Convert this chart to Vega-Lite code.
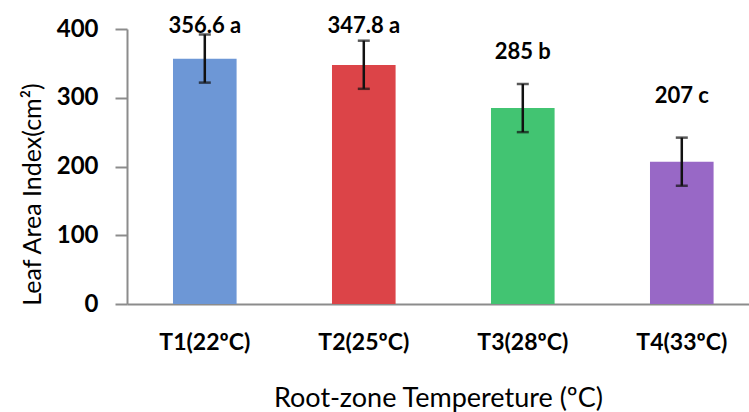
{
  "$schema": "https://vega.github.io/schema/vega-lite/v6.json",
  "width": 622,
  "height": 275,
  "autosize": "none",
  "padding": {"left": 127, "top": 29, "right": 0, "bottom": 108},
  "background": "white",
  "config": {"view": {"stroke": null}, "font": "Lato"},
  "data": {"values": [
    {"treatment": "T1(22ºC)", "lai": 356.6, "low": 322, "high": 392, "label": "356.6 a", "label_at": 394},
    {"treatment": "T2(25ºC)", "lai": 347.8, "low": 313, "high": 383, "label": "347.8 a", "label_at": 394},
    {"treatment": "T3(28ºC)", "lai": 285, "low": 250, "high": 320, "label": "285 b", "label_at": 356},
    {"treatment": "T4(33ºC)", "lai": 207, "low": 172, "high": 242, "label": "207 c", "label_at": 292}
  ]},
  "encoding": {
    "x": {
      "field": "treatment", "type": "nominal", "sort": null,
      "scale": {"paddingInner": 0.6, "paddingOuter": 0.256, "align": 0.565},
      "axis": {
        "title": "Root-zone Tempereture (ºC)",
        "labelAngle": 0, "labelFont": "Lato", "labelFontWeight": "bold", "labelFontSize": 23, "labelColor": "#000000",
        "labelBaseline": "middle", "labelPadding": 38,
        "ticks": false,
        "domainColor": "#8c8c8c", "domainWidth": 2,
        "titleFont": "Lato", "titleFontWeight": "normal", "titleFontSize": 27, "titleColor": "#000000",
        "titleY": 94, "titleBaseline": "middle"
      }
    }
  },
  "layer": [
    {
      "mark": {"type": "bar", "clip": false},
      "encoding": {
        "y": {
          "field": "lai", "type": "quantitative",
          "scale": {"domain": [0, 400], "nice": false},
          "axis": {
            "title": "Leaf Area Index(cm²)",
            "values": [0, 100, 200, 300, 400],
            "grid": false,
            "labelFont": "Lato", "labelFontWeight": "bold", "labelFontSize": 24, "labelColor": "#000000",
            "labelPadding": 17,
            "tickSize": 12, "tickWidth": 2, "tickColor": "#8c8c8c",
            "domainColor": "#8c8c8c", "domainWidth": 2,
            "titleFont": "Lato", "titleFontWeight": "normal", "titleFontSize": 25, "titleColor": "#000000",
            "titleX": -95, "titleY": 165, "titleAngle": -90, "titleAlign": "center", "titleBaseline": "middle"
          }
        },
        "color": {
          "field": "treatment", "type": "nominal", "sort": null, "legend": null,
          "scale": {"range": ["#6d97d6", "#dc4448", "#42c472", "#9868c6"]}
        }
      }
    },
    {
      "mark": {"type": "rule", "color": "#111111", "strokeWidth": 2.5},
      "encoding": {
        "y": {"field": "low", "type": "quantitative"},
        "y2": {"field": "high"}
      }
    },
    {
      "mark": {"type": "tick", "color": "#111111", "thickness": 2.5, "size": 12},
      "encoding": {"y": {"field": "low", "type": "quantitative"}}
    },
    {
      "mark": {"type": "tick", "color": "#111111", "thickness": 2.5, "size": 12},
      "encoding": {"y": {"field": "high", "type": "quantitative"}}
    },
    {
      "mark": {"type": "text", "font": "Lato", "fontWeight": "bold", "fontSize": 22, "color": "#000000", "baseline": "alphabetic"},
      "encoding": {
        "y": {"field": "label_at", "type": "quantitative"},
        "text": {"field": "label"}
      }
    }
  ]
}
